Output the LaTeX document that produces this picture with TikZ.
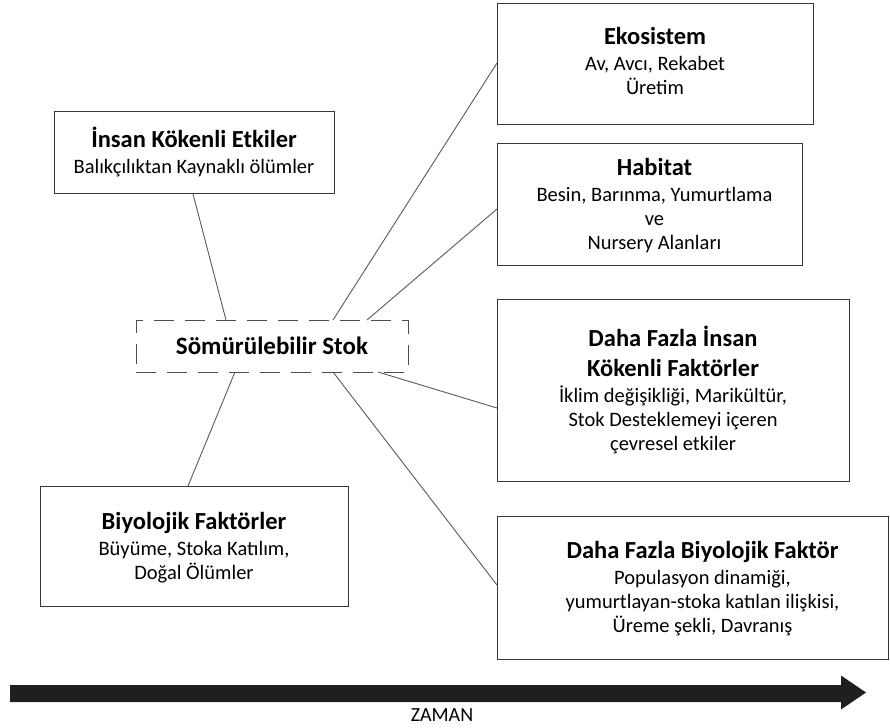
\documentclass[tikz,border=0pt]{standalone}
\usepackage{fontspec}
\setmainfont{Carlito}
\usetikzlibrary{calc}
\newcommand\bs{\rule[-6pt]{0pt}{24pt}}
\newcommand\ttl[1]{{\fontsize{24.5}{1pt}\selectfont\bfseries\rule[-8pt]{0pt}{30pt}#1}}
\newcommand\boxfont{\fontsize{20.5}{1pt}\selectfont\lineskip=0pt\relax}
\newcommand\shA{\hspace*{20pt}}
\newcommand\shB{\hspace*{10pt}}
\begin{document}
\begin{tikzpicture}[x=1pt,y=-1pt,
  box/.style={draw=black!78, line width=1pt, anchor=north west, align=center,
    inner sep=0pt, outer sep=0pt, font=\boxfont},
  stokbox/.style={box, draw=black!70, dash pattern=on 20pt off 11pt},
  link/.style={draw=black!65, line width=0.9pt},
  timearrow/.style={fill=black!88}]
\useasboundingbox (0,0) rectangle (890,727);

\node[box, minimum width=316pt, minimum height=121pt] (eko) at (497,4)
  {\ttl{Ekosistem}\\\bs Av, Avcı, Rekabet\\\rule[-12pt]{0pt}{30pt}Üretim};
\node[box, minimum width=305pt, minimum height=121pt] (hab) at (497,144)
  {\shB\ttl{Habitat}\\\shB\bs Besin, Barınma, Yumurtlama\\\shB\bs ve\\\shB\bs Nursery Alanları};
\node[box, minimum width=280pt, minimum height=82pt] (ins) at (54,112)
  {\ttl{İnsan Kökenli Etkiler}\\\bs Balıkçılıktan Kaynaklı ölümler};
\node[stokbox, minimum width=272pt, minimum height=52pt] (stok) at (136,320)
  {{\fontsize{25}{28}\selectfont\bfseries Sömürülebilir Stok}};
\node[box, minimum width=352pt, minimum height=182pt] (dfi) at (497,299)
  {\ttl{Daha Fazla İnsan}\\\ttl{Kökenli Faktörler}\\\bs İklim değişikliği, Marikültür,\\\bs Stok Desteklemeyi içeren\\\bs çevresel etkiler};
\node[box, minimum width=391pt, minimum height=143pt] (dfb) at (497,516)
  {\shA\ttl{Daha Fazla Biyolojik Faktör}\\\shA\bs Populasyon dinamiği,\\\shA\bs yumurtlayan-stoka katılan ilişkisi,\\\shA\bs Üreme şekli, Davranış};
\node[box, minimum width=308pt, minimum height=120pt] (bio) at (40,486)
  {\ttl{Biyolojik Faktörler}\\\bs Büyüme, Stoka Katılım,\\\bs Doğal Ölümler};

\draw[link] ($(ins.south west)+(139,0)$) -- ($(stok.north west)+(90,0)$);
\draw[link] ($(stok.north west)+(197,0)$) -- ($(eko.north west)+(0,59)$);
\draw[link] ($(stok.north west)+(231,0)$) -- ($(hab.north west)+(0,65)$);
\draw[link] ($(stok.south west)+(242,0)$) -- ($(dfi.north west)+(0,109)$);
\draw[link] ($(stok.south west)+(197,0)$) -- ($(dfb.north west)+(0,69)$);
\draw[link] ($(stok.south west)+(99,0)$) -- ($(bio.north west)+(148,0)$);

\fill[timearrow] (10,685) -- (841,685) -- (841,675.5) -- (866,692.5)
  -- (841,709.5) -- (841,702) -- (10,702) -- cycle;
\node[font=\fontsize{20}{22}\selectfont] (zaman) at (442,715) {ZAMAN};
\end{tikzpicture}
\end{document}
